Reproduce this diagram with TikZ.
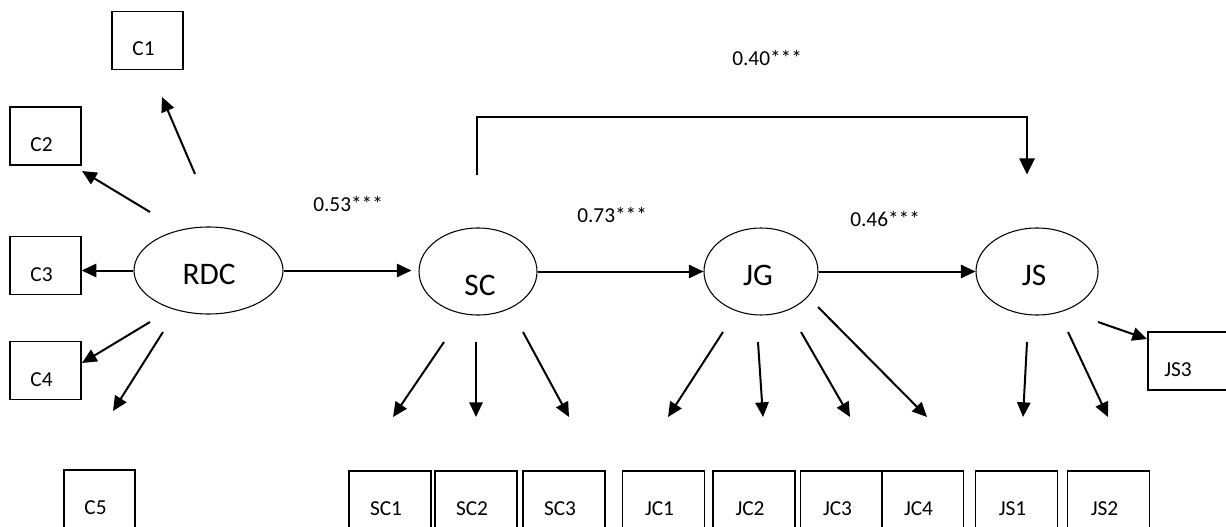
\documentclass[tikz,border=0pt]{standalone}
\usepackage{fontspec}
\setmainfont{Carlito}
\usetikzlibrary{arrows.meta,shapes.geometric,calc}

% an indicator box with its label set a little low and left, as in a text box
\newcommand\itembox[4]{%
  \node[#1] (#2) at (#3) {};
  \node[smalltxt] (#2-t) at ($(#2)+(-4,15.5)$) {#4};}

\begin{document}
\begin{tikzpicture}[x=0.75pt,y=-0.75pt,
  latent/.style={draw, ellipse, line width=0.8pt, inner sep=0pt, minimum height=65.25pt},
  wbox/.style={draw, rectangle, line width=1pt, inner sep=0pt, minimum height=43.5pt, minimum width=61.5pt},
  cbox/.style={wbox, minimum width=53.25pt},
  bigtxt/.style={font=\fontsize{23.5}{28}\selectfont, inner sep=0pt, anchor=base},
  smalltxt/.style={font=\fontsize{16}{19}\selectfont, inner sep=0pt, anchor=base},
  coef/.style={smalltxt, anchor=base west},
  reg/.style={line width=1.5pt, -{Triangle[length=11pt,width=10pt]}},
  ld/.style={line width=1.5pt, -{Triangle[length=11pt,width=10pt]}},
  brk/.style={line width=1.1pt, -{Triangle[length=12pt,width=11.5pt]}}]

\useasboundingbox (0,0) rectangle (1226,527);

% latent constructs
\node[latent, minimum width=111.75pt] (rdc) at (208.5,270.5) {};
\node[latent, minimum width=88.5pt]   (sc)  at (478,271.5) {};
\node[latent, minimum width=85.5pt]   (jg)  at (761,271.5) {};
\node[latent, minimum width=91.5pt]   (js)  at (1037,271.5) {};
\node[bigtxt] (rdc-t) at ($(rdc)+(0.5,13.5)$) {RDC};
\node[bigtxt] (sc-t)  at ($(sc)+(2,23.5)$)    {SC};
\node[bigtxt] (jg-t)  at ($(jg)+(-3,13.5)$)   {JG};
\node[bigtxt] (js-t)  at ($(js)+(-3,13.5)$)   {JS};

% indicators of RDC
\itembox{cbox}{C1}{147.5,40.5}{C1}
\itembox{cbox}{C2}{45.5,136}{C2}
\itembox{cbox}{C3}{45.5,265.5}{C3}
\itembox{cbox}{C4}{45.5,370.5}{C4}
\itembox{cbox}{C5}{99.5,499}{C5}

% indicators of SC, JG and JS
\itembox{wbox}{SC1}{390,500}{SC1}
\itembox{wbox}{SC2}{476,500}{SC2}
\itembox{wbox}{SC3}{564,500}{SC3}
\itembox{wbox}{JC1}{663.5,500}{JC1}
\itembox{wbox}{JC2}{754,500}{JC2}
\itembox{wbox}{JC3}{841.5,500}{JC3}
\itembox{wbox}{JC4}{922.5,500}{JC4}
\itembox{wbox}{JS1}{1016.5,500}{JS1}
\itembox{wbox}{JS2}{1108.5,500}{JS2}
\node[wbox, minimum width=60pt] (JS3) at (1188,361) {};
\node[smalltxt] (JS3-t) at ($(JS3)+(-10,15.5)$) {JS3};

% structural paths
\draw[reg] (rdc.east) -- ([xshift=-5.25pt]rdc.east -| sc.west);
\draw[reg] (sc.east) -- (sc.east -| jg.west);
\draw[reg] (jg.east) -- (jg.east -| js.west);
\draw[brk] ($(sc)+(-1,-96.5)$) -- ++(0,-58) -| ($(js)+(-10,-97)$);

\node[coef] (b1) at (313,212) {0.53***};
\node[coef] (b2) at (577,223) {0.73***};
\node[coef] (b3) at (850,227) {0.46***};
\node[coef] (b4) at (732,66)  {0.40***};

% loadings
\draw[ld] ($(rdc)+(-13.5,-96.5)$) -- ($(C1)+(14.5,56.5)$);
\draw[ld] ($(rdc)+(-58.5,-58.5)$) -- ($(C2)+(36.5,35)$);
\draw[ld] (rdc.west) -- (rdc.west -| C3.east);
\draw[ld] ($(rdc)+(-58.5,51.5)$)  -- ($(C4)+(36.5,-7.5)$);
\draw[ld] ($(rdc)+(-45.5,61.5)$)  -- ($(C5)+(13.5,-88)$);

\draw[ld] ($(sc)+(-34,70.5)$) -- ($(SC1)+(3,-83)$);
\draw[ld] ($(sc)+(-2,70.5)$)  -- ($(SC2)+(0,-83)$);
\draw[ld] ($(sc)+(45,60.5)$)  -- ($(SC3)+(5,-83)$);

\draw[ld] ($(jg)+(-38,60.5)$) -- ($(JC1)+(4.5,-83)$);
\draw[ld] ($(jg)+(-3,70.5)$)  -- ($(JC2)+(9,-83)$);
\draw[ld] ($(jg)+(40,60.5)$)  -- ($(JC3)+(8.5,-83)$);
\draw[ld] ($(jg)+(57,35.5)$)  -- ($(JC4)+(4.5,-83)$);

\draw[ld] ($(js)+(-10,70.5)$) -- ($(JS1)+(6.5,-83)$);
\draw[ld] ($(js)+(31,60.5)$)  -- ($(JS2)+(-0.5,-83)$);
\draw[ld] ($(js)+(61,50.5)$)  -- ($(JS3)+(-41,-22)$);

\end{tikzpicture}
\end{document}
